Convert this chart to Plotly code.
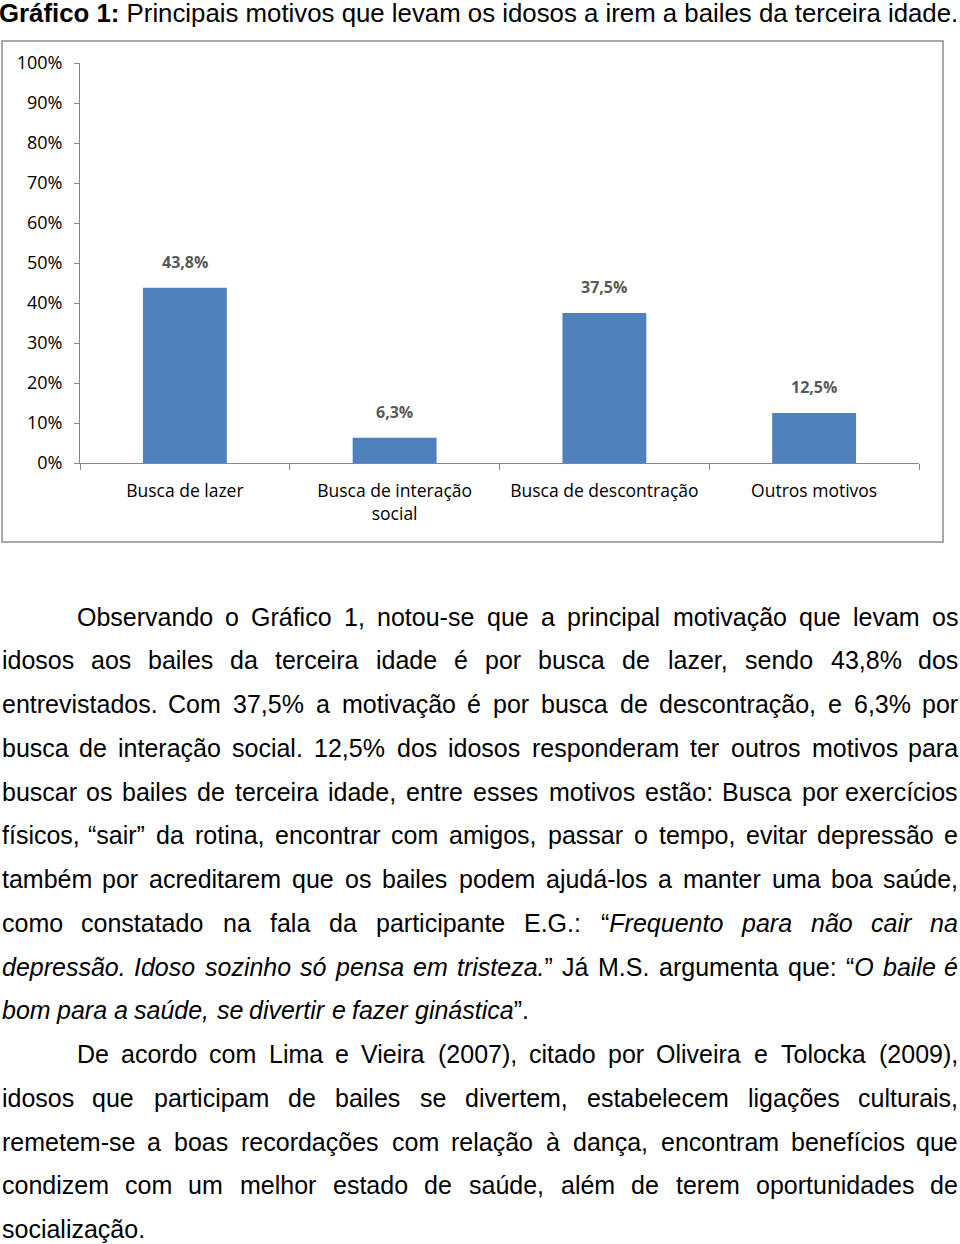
import unicodedata
import plotly.graph_objects as go

# ---------------- data ----------------
categories = ["Busca de lazer", "Busca de interação<br>social",
              "Busca de descontração", "Outros motivos"]
values = [43.8, 6.3, 37.5, 12.5]
y_tick_values = [0, 10, 20, 30, 40, 50, 60, 70, 80, 90, 100]
y_tick_labels = [f"{v}%" for v in y_tick_values]

title_bold = "Gráfico 1:"
title_rest = " Principais motivos que levam os idosos a irem a bailes da terceira idade."

# body text: (indent px, justified, [(text, italic), ...])
body_lines = [
    (76, True, [("Observando o Gráfico 1, notou-se que a principal motivação que levam os", False)]),
    (1, True, [("idosos aos bailes da terceira idade é por busca de lazer, sendo 43,8% dos", False)]),
    (1, True, [("entrevistados. Com 37,5% a motivação é por busca de descontração, e 6,3% por", False)]),
    (1, True, [("busca de interação social. 12,5% dos idosos responderam ter outros motivos para", False)]),
    (1, True, [("buscar os bailes de terceira idade, entre esses motivos estão: Busca por exercícios", False)]),
    (1, True, [("físicos, “sair” da rotina, encontrar com amigos, passar o tempo, evitar depressão e", False)]),
    (1, True, [("também por acreditarem que os bailes podem ajudá-los a manter uma boa saúde,", False)]),
    (1, True, [("como constatado na fala da participante E.G.: “", False),
               ("Frequento para não cair na", True)]),
    (1, True, [("depressão. Idoso sozinho só pensa em tristeza.", True),
               ("” Já M.S. argumenta que: “", False), ("O baile é", True)]),
    (1, False, [("bom para a saúde, se divertir e fazer ginástica", True), ("”.", False)]),
    (76, True, [("De acordo com Lima e Vieira (2007), citado por Oliveira e Tolocka (2009),", False)]),
    (1, True, [("idosos que participam de bailes se divertem, estabelecem ligações culturais,", False)]),
    (1, True, [("remetem-se a boas recordações com relação à dança, encontram benefícios que", False)]),
    (1, True, [("condizem com um melhor estado de saúde, além de terem oportunidades de", False)]),
    (1, False, [("socialização.", False)]),
]

# ---------------- layout constants (pixels) ----------------
W, H = 960, 1244
PL, PR, PT, PB = 80, 919, 63, 463
BODY_FONT = "Liberation Sans, Arial, Helvetica, sans-serif"
CHART_FONT = "Open Sans, Lato, sans-serif"
BODY_SIZE = 25
TEXT_RIGHT = 959
LINE_Y0, LINE_STEP = 616.5, 43.75


def xp(px):
    return (px - PL) / (PR - PL)


def yp(py):
    return (PB - py) / (PB - PT)


# Arial / Liberation Sans advance widths (units per 1000 em)
ARIAL = {' ': 278, '.': 278, ',': 278, ':': 278, ';': 278, '%': 889, '-': 333,
         '(': 333, ')': 333, '“': 333, '”': 333, '"': 355}
for ch, w in zip("abcdefghijklmnopqrstuvwxyz",
                 [556, 556, 500, 556, 556, 278, 556, 556, 222, 222, 500, 222, 833,
                  556, 556, 556, 556, 333, 500, 278, 556, 500, 722, 500, 500, 500]):
    ARIAL[ch] = w
for ch, w in zip("ABCDEFGHIJKLMNOPQRSTUVWXYZ",
                 [667, 667, 722, 722, 667, 611, 778, 722, 278, 500, 667, 556, 833,
                  722, 778, 667, 778, 722, 667, 611, 722, 667, 944, 667, 667, 611]):
    ARIAL[ch] = w
for d in "0123456789":
    ARIAL[d] = 556


def text_width(s, size):
    total = 0
    for ch in s:
        base = unicodedata.normalize("NFD", ch)[0]
        total += ARIAL.get(ch, ARIAL.get(base, 556))
    return total * size / 1000.0


def split_words(segments):
    words, cur = [], []
    for text, it in segments:
        parts = text.split(" ")
        for k, p in enumerate(parts):
            if k > 0 and cur:
                words.append(cur)
                cur = []
            if p:
                cur.append((p, it))
    if cur:
        words.append(cur)
    return words


def render_word(word):
    out = ""
    for t, it in word:
        out += f"<i>{t}</i>" if it else t
    return out


# ---------------- figure ----------------
fig = go.Figure()
fig.add_trace(go.Bar(
    x=categories, y=values,
    marker=dict(color="#4f81bd", line=dict(width=0)),
    hoverinfo="skip",
))

annotations = []
# value labels above bars
for c, v in zip(categories, values):
    annotations.append(dict(
        x=c, y=v, xref="x", yref="y", text=f"{v:.1f}%".replace(".", ","),
        showarrow=False, yanchor="bottom", yshift=13,
        font=dict(family=CHART_FONT, size=16, color="#595959", weight="bold"),
    ))

# title
annotations.append(dict(
    x=xp(-2), y=yp(13), xref="paper", yref="paper",
    text=f"<b>{title_bold}</b>{title_rest}", showarrow=False,
    xanchor="left", yanchor="middle", borderpad=0,
    font=dict(family=BODY_FONT, size=25.8, color="#000000"),
))

# body text, justified word by word
for i, (x0, justify, segs) in enumerate(body_lines):
    words = split_words(segs)
    widths = [text_width("".join(t for t, _ in w), BODY_SIZE) for w in words]
    space = text_width(" ", BODY_SIZE)
    if justify and len(words) > 1:
        gap = (TEXT_RIGHT - x0 - sum(widths)) / (len(words) - 1)
    else:
        gap = space
    ycen = LINE_Y0 + i * LINE_STEP
    xcur = x0
    n = len(words)
    for j, (w, wd) in enumerate(zip(words, widths)):
        if j == 0:
            ax, anc = xcur, "left"
        elif j == n - 1 and justify:
            ax, anc = TEXT_RIGHT, "right"
        else:
            ax, anc = xcur + wd / 2, "center"
        annotations.append(dict(
            x=xp(ax), y=yp(ycen), xref="paper", yref="paper",
            text=render_word(w), showarrow=False, xanchor=anc, yanchor="middle",
            borderpad=0,
            font=dict(family=BODY_FONT, size=BODY_SIZE, color="#000000"),
        ))
        xcur += wd + gap

# chart border
shapes = [dict(
    type="rect", xref="paper", yref="paper",
    x0=xp(2), x1=xp(943), y0=yp(542), y1=yp(41),
    line=dict(color="#8c8c8c", width=1.5), fillcolor="rgba(0,0,0,0)", layer="below",
)]

fig.update_layout(
    width=W, height=H,
    margin=dict(l=PL, r=W - PR, t=PT, b=H - PB, pad=0),
    paper_bgcolor="white", plot_bgcolor="white",
    showlegend=False,
    bargap=0.6,
    annotations=annotations,
    shapes=shapes,
    xaxis=dict(
        showline=True, linecolor="#868686", linewidth=1,
        ticks="outside", tickson="boundaries", ticklen=6, tickcolor="#868686",
        showgrid=False, zeroline=False, ticklabelstandoff=12,
        tickfont=dict(family=CHART_FONT, size=17.5, color="#000000"),
    ),
    yaxis=dict(
        range=[0, 100], tickvals=y_tick_values, ticktext=y_tick_labels,
        showline=True, linecolor="#868686", linewidth=1,
        ticks="outside", ticklen=5, tickcolor="#868686",
        showgrid=False, zeroline=False, ticklabelstandoff=8,
        tickfont=dict(family=CHART_FONT, size=18, color="#000000"),
    ),
)

fig.write_html("out.html")
